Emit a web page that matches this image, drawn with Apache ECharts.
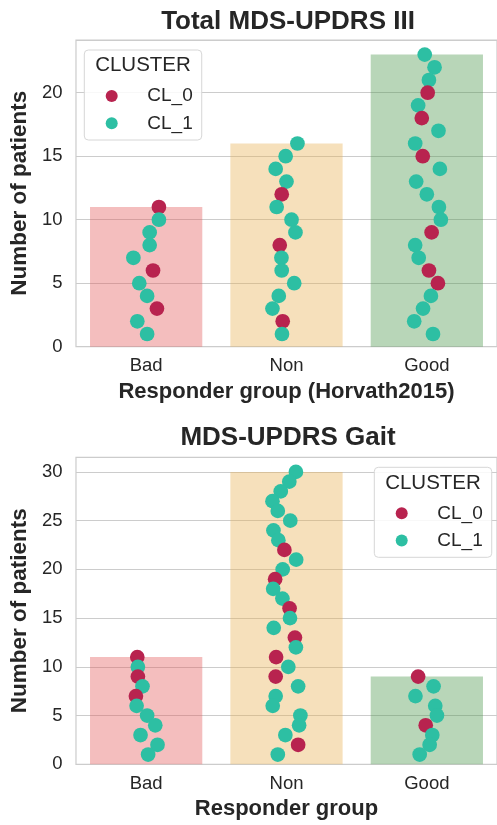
<!DOCTYPE html>
<html><head><meta charset="utf-8">
<script src="https://cdn.jsdelivr.net/npm/echarts@6/dist/echarts.min.js"></script>
<style>html,body{margin:0;padding:0;background:#fff}#c{width:497px;height:825px}</style>
</head><body><div id="c"></div>
<script>
// ---------- DATA ----------
const categories = ['Bad', 'Non', 'Good'];
const clusterNames = ['CL_0', 'CL_1'];

// Panel 1: Total MDS-UPDRS III
const totalCounts = [11, 16, 23];
const totalYTicks = [0, 5, 10, 15, 20];
const totalYMax = 24.15;
const totalBadY       = [1,2,3,4,5,6,7,8,9,10,11];
const totalBadCluster = [1,1,0,1,1,0,1,1,1,1,0];
const totalBadJitter  = [0.007,-0.063,0.077,0.007,-0.049,0.049,-0.091,0.025,0.025,0.091,0.091];
const totalNonY       = [1,2,3,4,5,6,7,8,9,10,11,12,13,14,15,16];
const totalNonCluster = [1,0,1,1,1,1,1,0,1,1,1,0,1,1,1,1];
const totalNonJitter  = [-0.032,-0.027,-0.100,-0.055,0.055,-0.034,-0.036,-0.048,0.064,0.036,-0.070,-0.034,0.000,-0.077,-0.006,0.078];
const totalGoodY       = [1,2,3,4,5,6,7,8,9,10,11,12,13,14,15,16,17,18,19,20,21,22,23];
const totalGoodCluster = [1,1,1,1,0,0,1,1,0,1,1,1,1,1,0,1,1,0,1,0,1,1,1];
const totalGoodJitter  = [0.044,-0.090,-0.027,0.029,0.079,0.015,-0.058,-0.083,0.034,0.100,0.086,0.000,-0.076,0.093,-0.029,-0.083,0.083,-0.036,-0.062,0.006,0.015,0.055,-0.015];

// Panel 2: MDS-UPDRS Gait
const gaitCounts = [11, 30, 9];
const gaitYTicks = [0, 5, 10, 15, 20, 25, 30];
const gaitYMax = 31.5;
const gaitBadY       = [1,2,3,4,5,6,7,8,9,10,11];
const gaitBadCluster = [1,1,1,1,1,1,0,1,0,1,0];
const gaitBadJitter  = [0.014,0.081,-0.040,0.065,0.007,-0.068,-0.073,-0.026,-0.059,-0.059,-0.063];
const gaitNonY       = [1,2,3,4,5,6,7,8,9,10,11,12,13,14,15,16,17,18,19,20,21,22,23,24,25,26,27,28,29,30];
const gaitNonCluster = [1,0,1,1,1,1,1,1,0,1,0,1,0,1,1,0,1,1,0,1,1,0,1,1,1,1,1,1,1,1];
const gaitNonJitter  = [-0.062,0.083,-0.008,0.090,0.099,-0.098,-0.077,0.083,-0.077,0.013,-0.074,0.067,0.060,-0.091,0.025,0.022,-0.029,-0.095,-0.081,-0.027,0.069,-0.015,-0.058,-0.093,0.027,-0.062,-0.100,-0.041,0.020,0.067];
const gaitGoodY       = [1,2,3,4,5,6,7,8,9];
const gaitGoodCluster = [1,1,1,0,1,1,1,1,0];
const gaitGoodJitter  = [-0.051,0.020,0.039,-0.008,0.072,0.060,-0.081,0.048,-0.062];

// ---------- STYLE ----------
const FONT = "'Liberation Sans', Arial, sans-serif";
const TXT = '#262626';
const GRIDC = '#cccccc';
const barColors = ['rgba(228,93,93,0.4)', 'rgba(232,177,85,0.4)', 'rgba(77,152,77,0.4)'];
const clusterColors = ['#B8234F', '#2DBFA3'];

function buildPoints(groups) {
  const pts = [];
  groups.forEach((g, gi) => {
    g.y.forEach((y, k) => {
      pts.push({ value: [gi + g.j[k], y], itemStyle: { color: clusterColors[g.c[k]], opacity: 1 } });
    });
  });
  pts.sort((a, b) => b.value[1] - a.value[1]);
  return pts;
}
const totalPts = buildPoints([
  { y: totalBadY, c: totalBadCluster, j: totalBadJitter },
  { y: totalNonY, c: totalNonCluster, j: totalNonJitter },
  { y: totalGoodY, c: totalGoodCluster, j: totalGoodJitter }
]);
const gaitPts = buildPoints([
  { y: gaitBadY, c: gaitBadCluster, j: gaitBadJitter },
  { y: gaitNonY, c: gaitNonCluster, j: gaitNonJitter },
  { y: gaitGoodY, c: gaitGoodCluster, j: gaitGoodJitter }
]);

const grids = [
  { left: 74.5, top: 40, width: 427.2, height: 306.7 },
  { left: 74.5, top: 457.3, width: 427.2, height: 307 }
].map(g => Object.assign(g, { show: true, borderColor: GRIDC, borderWidth: 1.2, containLabel: false }));

function catAxis(gi, name) {
  return {
    type: 'category', gridIndex: gi, data: categories,
    axisLine: { show: false }, axisTick: { show: false }, splitLine: { show: false },
    axisLabel: { fontSize: 18.5, color: TXT, margin: 10, fontFamily: FONT },
    name: name, nameLocation: 'middle', nameGap: 34,
    nameTextStyle: { fontSize: 22, fontWeight: 'bold', color: TXT, fontFamily: FONT }
  };
}
function jitAxis(gi) {
  return { type: 'value', gridIndex: gi, min: -0.5, max: 2.5, show: false };
}
function valAxis(gi, max, ticks) {
  return {
    type: 'value', gridIndex: gi, min: 0, max: max, interval: 5,
    axisLine: { show: false }, axisTick: { show: false },
    splitLine: { lineStyle: { color: GRIDC, width: 1.2 } },
    axisLabel: { fontSize: 18.5, color: TXT, margin: 13.5, fontFamily: FONT,
      formatter: v => ticks.includes(v) ? String(v) : '' },
    name: 'Number of patients', nameLocation: 'middle', nameGap: 37,
    nameTextStyle: { fontSize: 22.5, fontWeight: 'bold', color: TXT, fontFamily: FONT }
  };
}
function legendAt(left, top) {
  return {
    data: clusterNames, orient: 'vertical', left: left, top: top,
    padding: [36.5, 9, 7.2, 21.4], itemWidth: 12, itemHeight: 12, itemGap: 8.3,
    icon: 'circle', borderColor: '#d6d6d6', borderWidth: 1, borderRadius: 4,
    backgroundColor: 'rgba(255,255,255,0.85)', selectedMode: false,
    formatter: n => '{p|}' + n,
    textStyle: { fontSize: 19, color: TXT, fontFamily: FONT, rich: { p: { width: 24.6 } } }
  };
}
function barSeries(gi, counts) {
  return {
    type: 'bar', xAxisIndex: gi * 2, yAxisIndex: gi, barWidth: '80%',
    data: counts.map((v, i) => ({ value: v, itemStyle: { color: barColors[i] } })),
    silent: true, z: 2
  };
}
function scatterSeries(gi, pts) {
  return { type: 'scatter', xAxisIndex: gi * 2 + 1, yAxisIndex: gi, symbolSize: 14.7, data: pts, z: 3, silent: true, itemStyle: { opacity: 1 } };
}

const option = {
  animation: false,
  textStyle: { fontFamily: FONT },
  grid: grids,
  xAxis: [catAxis(0, 'Responder group (Horvath2015)'), jitAxis(0), catAxis(1, 'Responder group'), jitAxis(1)],
  yAxis: [valAxis(0, totalYMax, totalYTicks), valAxis(1, gaitYMax, gaitYTicks)],
  legend: [legendAt(84.3, 50), legendAt(374.3, 467.3)],
  graphic: [
    { type: 'text', z: 100, style: { text: 'Total MDS-UPDRS III', x: 288, y: 22.2, textAlign: 'center', textVerticalAlign: 'middle', font: 'bold 26px ' + FONT, fill: TXT } },
    { type: 'text', z: 100, style: { text: 'MDS-UPDRS Gait', x: 288, y: 438.3, textAlign: 'center', textVerticalAlign: 'middle', font: 'bold 26px ' + FONT, fill: TXT } },
    { type: 'text', z: 100, style: { text: 'CLUSTER', x: 143, y: 65.8, textAlign: 'center', textVerticalAlign: 'middle', font: '20.5px ' + FONT, fill: TXT } },
    { type: 'text', z: 100, style: { text: 'CLUSTER', x: 433, y: 483.1, textAlign: 'center', textVerticalAlign: 'middle', font: '20.5px ' + FONT, fill: TXT } }
  ],
  series: [
    barSeries(0, totalCounts), scatterSeries(0, totalPts),
    barSeries(1, gaitCounts), scatterSeries(1, gaitPts),
    { type: 'scatter', name: 'CL_0', xAxisIndex: 1, yAxisIndex: 0, data: [], itemStyle: { color: clusterColors[0], opacity: 1 } },
    { type: 'scatter', name: 'CL_1', xAxisIndex: 1, yAxisIndex: 0, data: [], itemStyle: { color: clusterColors[1], opacity: 1 } }
  ]
};
const chart = echarts.init(document.getElementById('c'), null, { renderer: 'canvas' });
chart.setOption(option);
</script></body></html>
